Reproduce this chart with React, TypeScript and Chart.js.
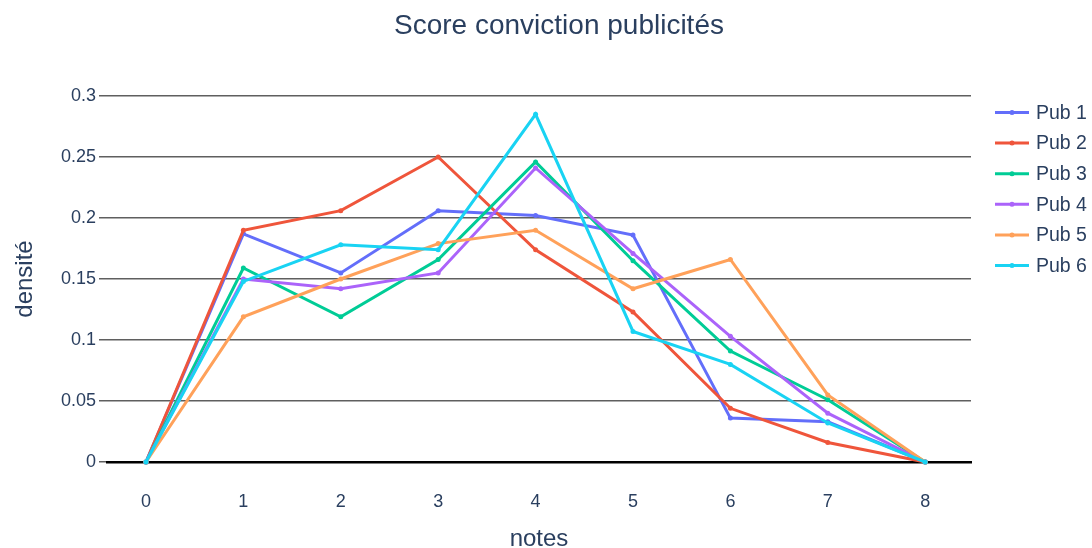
import React, { useEffect, useRef } from "react";
import { Chart, registerables } from "chart.js";

Chart.register(...registerables);

// ---- Data ----
const notes = [0, 1, 2, 3, 4, 5, 6, 7, 8];
const seriesNames = ["Pub 1", "Pub 2", "Pub 3", "Pub 4", "Pub 5", "Pub 6"];
const pub1 = [0, 0.187, 0.155, 0.206, 0.202, 0.186, 0.036, 0.033, 0];
const pub2 = [0, 0.19, 0.206, 0.25, 0.174, 0.123, 0.044, 0.016, 0];
const pub3 = [0, 0.159, 0.119, 0.166, 0.246, 0.165, 0.091, 0.051, 0];
const pub4 = [0, 0.15, 0.142, 0.155, 0.241, 0.171, 0.103, 0.04, 0];
const pub5 = [0, 0.119, 0.15, 0.179, 0.19, 0.142, 0.166, 0.055, 0];
const pub6 = [0, 0.148, 0.178, 0.174, 0.285, 0.107, 0.08, 0.032, 0];
const seriesColors = ["#636efa", "#EF553B", "#00cc96", "#ab63fa", "#FFA15A", "#19d3f3"];
const yTickValues = [0, 0.05, 0.1, 0.15, 0.2, 0.25, 0.3];
const xTickValues = notes;
const chartTitle = "Score conviction publicités";
const xTitle = "notes";
const yTitle = "densité";

const FONT = "'Liberation Sans', Arial, sans-serif";
const TEXT = "#2a3f5f";

export default function App() {
  const ref = useRef<HTMLCanvasElement>(null);

  useEffect(() => {
    document.body.style.margin = "0";
    const series = [pub1, pub2, pub3, pub4, pub5, pub6];

    const overlay = {
      id: "overlay",
      afterDraw(chart: any) {
        const ctx = chart.ctx as CanvasRenderingContext2D;
        ctx.save();
        // title
        ctx.fillStyle = TEXT;
        ctx.font = `28px ${FONT}`;
        ctx.textAlign = "center";
        ctx.textBaseline = "middle";
        ctx.fillText(chartTitle, 559, 26);
        // legend
        ctx.textAlign = "left";
        ctx.font = `19.5px ${FONT}`;
        seriesNames.forEach((name, i) => {
          const y = 112.5 + i * 30.6;
          ctx.strokeStyle = seriesColors[i];
          ctx.lineWidth = 3;
          ctx.beginPath();
          ctx.moveTo(995, y);
          ctx.lineTo(1029, y);
          ctx.stroke();
          ctx.fillStyle = seriesColors[i];
          ctx.beginPath();
          ctx.arc(1012, y, 2.5, 0, Math.PI * 2);
          ctx.fill();
          ctx.fillStyle = TEXT;
          ctx.fillText(name, 1036, y + 1);
        });
        ctx.restore();
      },
    };

    const chart = new Chart(ref.current!, {
      type: "line",
      data: {
        datasets: series.map((s, i) => ({
          label: seriesNames[i],
          data: notes.map((x, j) => ({ x, y: s[j] })),
          borderColor: seriesColors[i],
          backgroundColor: seriesColors[i],
          pointBackgroundColor: seriesColors[i],
          borderWidth: 3,
          pointRadius: 2.5,
          pointBorderWidth: 0,
          tension: 0,
          order: series.length - i,
          clip: false as any,
        })),
      },
      options: {
        animation: false,
        responsive: false,
        maintainAspectRatio: false,
        events: [],
        layout: { padding: { top: 96, right: 121, left: 0, bottom: 0 } },
        plugins: {
          legend: { display: false },
          title: { display: false },
          tooltip: { enabled: false },
        },
        scales: {
          x: {
            type: "linear",
            min: -0.4,
            max: 8.47,
            afterBuildTicks: (s: any) => {
              s.ticks = xTickValues.map((v) => ({ value: v }));
            },
            afterFit: (s: any) => {
              s.height = 86;
            },
            grid: { display: false, drawOnChartArea: false, drawTicks: false },
            border: { display: true, color: "#000", width: 2.5 },
            ticks: {
              padding: 29,
              color: TEXT,
              font: { family: FONT, size: 18 },
              maxRotation: 0,
              autoSkip: false,
            },
            title: {
              display: true,
              text: xTitle,
              color: TEXT,
              font: { family: FONT, size: 24, lineHeight: 0.8 },
              padding: { top: 0, bottom: -1 },
            },
          },
          y: {
            type: "linear",
            min: 0,
            max: 0.3,
            afterBuildTicks: (s: any) => {
              s.ticks = yTickValues.map((v) => ({ value: v }));
            },
            afterFit: (s: any) => {
              s.width = 107;
            },
            grid: { color: "#5f5f5f", lineWidth: 1.5, drawTicks: true, tickLength: 8 },
            border: { display: false },
            ticks: {
              padding: 3,
              color: TEXT,
              font: { family: FONT, size: 18 },
              callback: (v: any) => String(Number(Number(v).toFixed(2))),
            },
            title: {
              display: true,
              text: yTitle,
              color: TEXT,
              font: { family: FONT, size: 24, lineHeight: 1.2 },
              padding: { top: 11, bottom: 0 },
            },
          },
        },
      },
      plugins: [overlay],
    } as any);
    return () => chart.destroy();
  }, []);

  return (
    <div style={{ width: 1092, height: 548 }}>
      <canvas ref={ref} width={1092} height={548} style={{ display: "block", width: 1092, height: 548 }} />
    </div>
  );
}
